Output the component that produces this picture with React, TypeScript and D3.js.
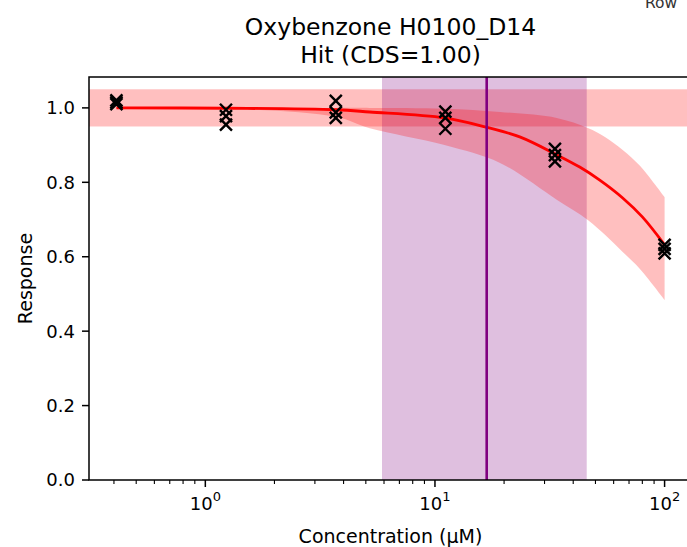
import * as React from "react"
import * as d3 from "d3"

// measured replicates
const conc = [0.41, 1.23, 3.7, 11.1, 33.3, 100]
const rep1 = [1.02, 0.995, 1.019, 0.99, 0.89, 0.632]
const rep2 = [1.015, 0.978, 0.988, 0.973, 0.873, 0.621]
const rep3 = [1.01, 0.955, 0.973, 0.944, 0.856, 0.609]

// fitted curve
const fitConc = [0.41, 1.23, 3.7, 5.2, 11, 16.5, 23.4, 33.9, 42.7, 52.2, 65.7, 80, 100]
const fitResp = [1.0, 0.999, 0.995, 0.989, 0.973, 0.949, 0.922, 0.874, 0.841, 0.806, 0.758, 0.707, 0.632]

// confidence band
const bandConc = [0.41, 1.23, 3.7, 5.2, 11, 19.2, 33.9, 46.3, 55, 65.7, 77.9, 100]
const bandUpper = [1.0, 1.0, 1.0, 1.0, 0.998, 0.989, 0.973, 0.946, 0.922, 0.887, 0.845, 0.76]
const bandLower = [1.0, 0.998, 0.976, 0.945, 0.9, 0.852, 0.753, 0.699, 0.659, 0.613, 0.568, 0.484]

// noise band and AC50 window
const noiseBand = [0.95, 1.05]
const ac50 = 16.8
const ac50Range = [5.88, 45.8]

const yTicks = [0, 0.2, 0.4, 0.6, 0.8, 1.0]
const xMajor = [1, 10, 100]
const xMinor = [0.4, 0.5, 0.6, 0.7, 0.8, 0.9, 2, 3, 4, 5, 6, 7, 8, 9, 20, 30, 40, 50, 60, 70, 80, 90]
const yMax = 1.083

const width = 687
const height = 547
const margin = { top: 77, right: -5, bottom: 67, left: 89 }

export default function App() {
  const w = width - margin.left - margin.right
  const h = height - margin.top - margin.bottom

  // 5% padding in log space like matplotlib
  const lo = Math.log10(d3.min(conc)!)
  const hi = Math.log10(d3.max(conc)!)
  const pad = (hi - lo) * 0.05
  const xScale = d3
    .scaleLog()
    .domain([Math.pow(10, lo - pad), Math.pow(10, hi + pad)])
    .range([0, w])
  const yScale = d3.scaleLinear().domain([0, yMax]).range([h, 0])

  const line = d3
    .line<number>()
    .x((_, i) => xScale(fitConc[i]))
    .y((d) => yScale(d))
    .curve(d3.curveCatmullRom.alpha(0.5))

  const area = d3
    .area<number>()
    .x((_, i) => xScale(bandConc[i]))
    .y0((_, i) => yScale(bandLower[i]))
    .y1((d) => yScale(d))
    .curve(d3.curveCatmullRom.alpha(0.5))

  const pts: [number, number][] = []
  conc.forEach((c, i) => {
    pts.push([c, rep1[i]], [c, rep2[i]], [c, rep3[i]])
  })
  const m = 6

  const font = "DejaVu Sans, sans-serif"

  return (
    <div style={{ position: "absolute", left: 0, top: 0 }}>
      <svg width={width} height={height} style={{ display: "block", background: "white" }}>
        <text x={645} y={8} fontFamily={font} fontSize={15.5} fill="#333">
          Row
        </text>
        <text textAnchor="middle" fontFamily={font} fontSize={23.5} fill="black">
          <tspan x={margin.left + w / 2} y={35}>Oxybenzone H0100_D14</tspan>
          <tspan x={margin.left + w / 2} y={63}>Hit (CDS=1.00)</tspan>
        </text>
        <defs>
          <clipPath id="plot">
            <rect x={0} y={0} width={w} height={h} />
          </clipPath>
        </defs>
        <g transform={`translate(${margin.left},${margin.top})`}>
          <g clipPath="url(#plot)">
            <rect
              x={0}
              width={w}
              y={yScale(noiseBand[1])}
              height={yScale(noiseBand[0]) - yScale(noiseBand[1])}
              fill="red"
              fillOpacity={0.25}
            />
            <rect
              x={xScale(ac50Range[0])}
              width={xScale(ac50Range[1]) - xScale(ac50Range[0])}
              y={0}
              height={h}
              fill="purple"
              fillOpacity={0.25}
            />
            <path d={area(bandUpper) ?? ""} fill="red" fillOpacity={0.25} />
            <path d={line(fitResp) ?? ""} fill="none" stroke="red" strokeWidth={2.8} />
            <line
              x1={xScale(ac50)}
              x2={xScale(ac50)}
              y1={0}
              y2={h}
              stroke="purple"
              strokeWidth={2.6}
            />
            {pts.map(([c, v], i) => {
              const cx = xScale(c)
              const cy = yScale(v)
              return (
                <path
                  key={i}
                  d={`M${cx - m},${cy - m}L${cx + m},${cy + m}M${cx - m},${cy + m}L${cx + m},${cy - m}`}
                  stroke="black"
                  strokeWidth={2.4}
                  fill="none"
                />
              )
            })}
          </g>
          {/* spines */}
          <rect x={0} y={0} width={w} height={h} fill="none" stroke="black" strokeWidth={1.5} />
          {/* y axis */}
          {yTicks.map((t) => (
            <g key={t} transform={`translate(0,${yScale(t)})`}>
              <line x1={-7} x2={0} stroke="black" strokeWidth={1.5} />
              <text
                x={-14}
                dy="0.36em"
                textAnchor="end"
                fontFamily={font}
                fontSize={18}
                fill="black"
              >
                {t.toFixed(1)}
              </text>
            </g>
          ))}
          {/* x axis */}
          {xMinor.map((t) => (
            <line
              key={t}
              x1={xScale(t)}
              x2={xScale(t)}
              y1={h}
              y2={h + 4}
              stroke="black"
              strokeWidth={1.1}
            />
          ))}
          {xMajor.map((t) => (
            <g key={t} transform={`translate(${xScale(t)},${h})`}>
              <line y1={0} y2={7} stroke="black" strokeWidth={1.5} />
              <text y={30} textAnchor="middle" fontFamily={font} fontSize={18} fill="black">
                10
                <tspan dy={-9} fontSize={13}>
                  {Math.round(Math.log10(t))}
                </tspan>
              </text>
            </g>
          ))}
          <text
            x={w / 2}
            y={h + 63}
            textAnchor="middle"
            fontFamily={font}
            fontSize={19}
            fill="black"
          >
            Concentration (µM)
          </text>
          <text
            transform={`translate(-57,${h / 2}) rotate(-90)`}
            textAnchor="middle"
            fontFamily={font}
            fontSize={19}
            fill="black"
          >
            Response
          </text>
        </g>
      </svg>
    </div>
  )
}
